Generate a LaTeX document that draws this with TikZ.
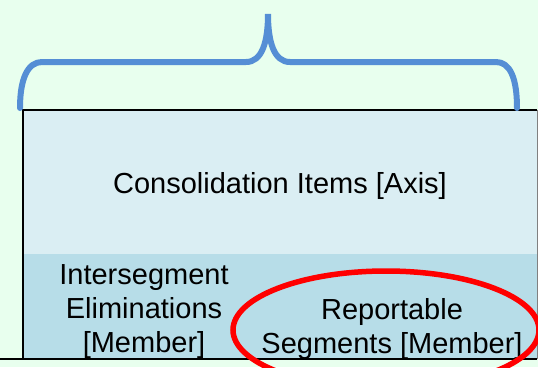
\documentclass[tikz,border=0pt]{standalone}
\usepackage{fontspec}
\setmainfont{Liberation Sans}
\usetikzlibrary{shapes.geometric}
\definecolor{slidegreen}{RGB}{232,255,238}
\definecolor{axisblue}{RGB}{218,238,243}
\definecolor{memberblue}{RGB}{183,221,232}
\definecolor{bracecol}{RGB}{85,142,213}
\tikzset{
	boxtext/.style={align=center,inner sep=0pt,font=\fontsize{29}{34}\selectfont},
	brace/.style={draw=bracecol,line width=6pt,line cap=round},
	ring/.style={ellipse,draw=red,line width=5.5pt,inner sep=0pt}
}
\begin{document}
\begin{tikzpicture}[x=1pt,y=-1pt]
	\fill[slidegreen] (0,0) rectangle (538,367);
	\useasboundingbox (0,0) rectangle (538,367);
	% axis box and member band
	\fill[axisblue] (23,110) rectangle (537,254);
	\fill[memberblue] (23,254) rectangle (537,359);
	\draw[gray,line width=1pt] (537,110) -- (537,359);
	\draw[line width=2pt] (0,359) -- (23,359) -- (23,110) -- (537,110);
	\draw[line width=2pt] (23,359) -- (537,359);
	% brace
	\draw[brace] (20,108) .. controls (20,78) and (28,62) .. (42,62)
		-- (246,62) .. controls (262,62) and (268,42) .. (268,14)
		.. controls (268,42) and (274,62) .. (290,62)
		-- (496,62) .. controls (510,62) and (517,78) .. (517,108);
	\node[boxtext] (axis) at (280,185.5) {Consolidation Items [Axis]};
	\node[boxtext] (elim) at (144,311.5) {Intersegment\\Eliminations\\{}[Member]};
	\node[boxtext] (segments) at (392,329) {Reportable\\Segments [Member]};
	\node[ring,minimum width=306pt,minimum height=118pt] (highlight) at (386,330) {};
\end{tikzpicture}
\end{document}
